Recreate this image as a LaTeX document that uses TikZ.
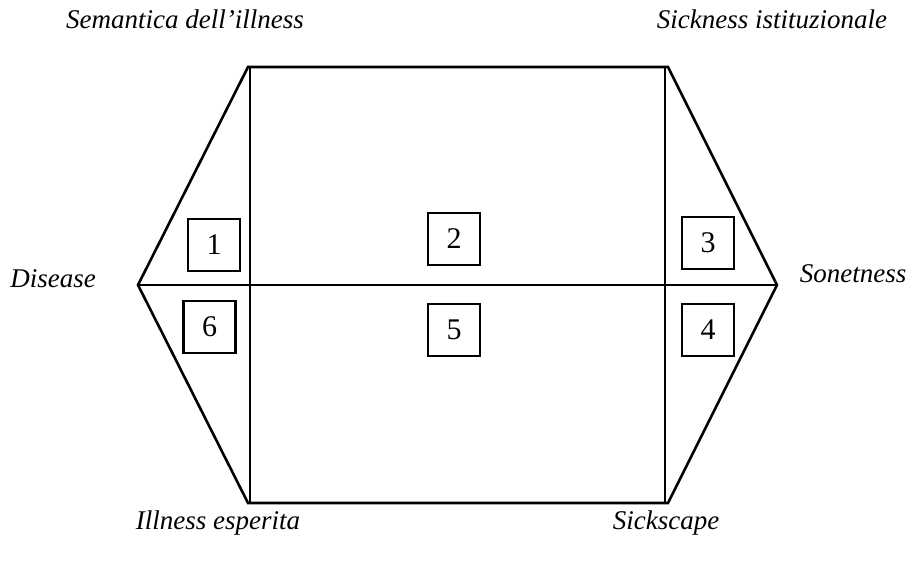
\documentclass[tikz,border=0pt]{standalone}
\usepackage{fontspec}
\setmainfont{Liberation Serif}
\begin{document}
\begin{tikzpicture}[x=1pt,y=-1pt,
	outer/.style={line width=2.6pt,line join=miter},
	inner/.style={line width=1.2pt},
	numbox/.style={draw,line width=2.2pt,minimum size=52pt,inner sep=0pt,font=\fontsize{30}{30}\selectfont},
	lab/.style={font=\fontsize{27}{27}\selectfont\itshape}]
	\useasboundingbox (0,0) rectangle (917,567);
	\path (138,285) coordinate (W) 
	(248,67) coordinate (NW)
	(668,67) coordinate (NE)
	(777,285) coordinate (E)
	(668,503) coordinate (SE)
	(248,503) coordinate (SW)
	(250,67) coordinate (NWi) (250,503) coordinate (SWi)
	(665,67) coordinate (NEi) (665,503) coordinate (SEi);
	\draw[inner] (W) -- (E) (NWi) -- (SWi) (NEi) -- (SEi);
	\draw[outer] (W) -- (NW) -- (NE) -- (E) -- (SE) -- (SW) -- cycle;
	\node[numbox] (b1) at (214,245) {1};
	\node[numbox] (b2) at (454,239) {2};
	\node[numbox] (b3) at (708,243) {3};
	\node[numbox] (b4) at (708,330) {4};
	\node[numbox] (b5) at (454,330) {5};
	\node[numbox] (b6) at (209.5,327) {6};
	\node[lab] (sem) at (185,19) {Semantica dell’illness};
	\node[lab] (ist) at (772,19) {Sickness istituzionale};
	\node[lab] (dis) at (53,279) {Disease};
	\node[lab] (son) at (853,274) {Sonetness};
	\node[lab] (esp) at (218,523) {Illness esperita};
	\node[lab] (scape) at (666,523) {Sickscape};
\end{tikzpicture}
\end{document}
